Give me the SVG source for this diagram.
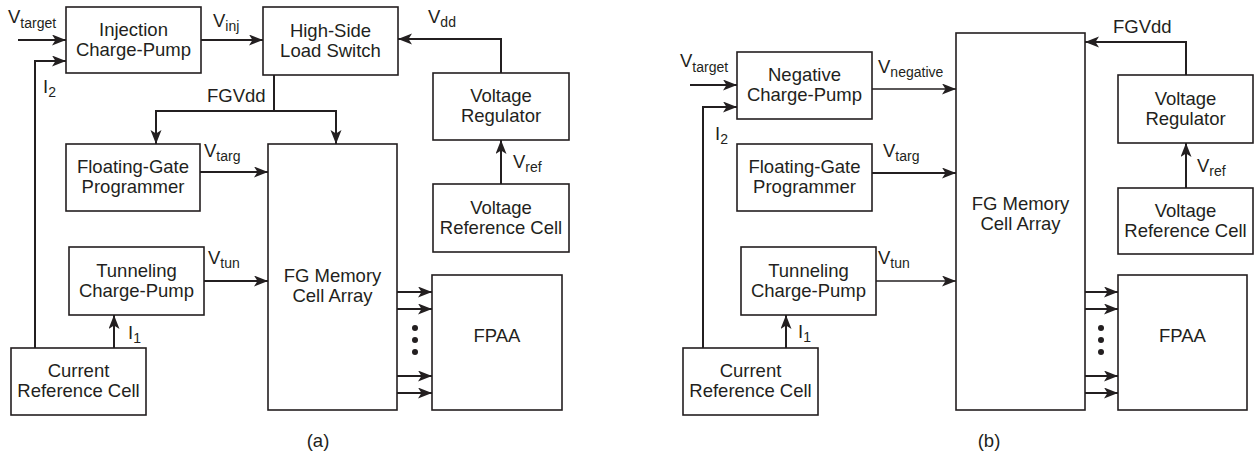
<svg xmlns="http://www.w3.org/2000/svg" width="1255" height="459" viewBox="0 0 1255 459">
<style>
rect.box{fill:#fff;stroke:#231f20;stroke-width:1.6}
text{font-family:"Liberation Sans",Arial,sans-serif;font-size:18.5px;fill:#231f20}
text.c{text-anchor:middle}
.sub{font-size:14px}
.w path{fill:none;stroke:#231f20;stroke-width:2}
.w path.thin{stroke-width:1.4}
.dot{fill:#231f20}
</style>
<defs>
<marker id="ah" markerUnits="userSpaceOnUse" markerWidth="15" markerHeight="12" refX="14" refY="5.5" orient="auto">
<path d="M0,0 L14,5.5 L0,11 L3.5,5.5 z" fill="#231f20"/>
</marker>
</defs>

<g id="connectors" class="w">
<!-- (a) -->
<path d="M18,40 H66" marker-end="url(#ah)"/>
<path d="M35,348 V61 H66" marker-end="url(#ah)"/>
<path d="M201,40 H263" marker-end="url(#ah)"/>
<path d="M274,75 V111 H156 V144" marker-end="url(#ah)"/>
<path d="M274,111 H336 V144" marker-end="url(#ah)"/>
<path d="M501,73 V39 H398" marker-end="url(#ah)"/>
<path d="M501,184 V140" marker-end="url(#ah)"/>
<path d="M200,172 H268" marker-end="url(#ah)"/>
<path d="M204,281 H268" marker-end="url(#ah)"/>
<path d="M114,348 V315" marker-end="url(#ah)"/>
<path d="M397,292 H432" marker-end="url(#ah)"/>
<path d="M397,309 H432" marker-end="url(#ah)"/>
<path d="M397,376 H432" marker-end="url(#ah)"/>
<path d="M397,393 H432" marker-end="url(#ah)"/>
<circle class="dot" cx="415" cy="328" r="3"/>
<circle class="dot" cx="415" cy="340" r="3"/>
<circle class="dot" cx="415" cy="352" r="3"/>
<!-- (b) -->
<path d="M690,85 H737" marker-end="url(#ah)"/>
<path d="M703,348 V107 H737" marker-end="url(#ah)"/>
<path class="thin" d="M872,89 H956" marker-end="url(#ah)"/>
<path d="M872,173 H956" marker-end="url(#ah)"/>
<path class="thin" d="M876,281 H956" marker-end="url(#ah)"/>
<path d="M1186,75 V42 H1085" marker-end="url(#ah)"/>
<path d="M1186,188 V143" marker-end="url(#ah)"/>
<path d="M786,348 V315" marker-end="url(#ah)"/>
<path d="M1085,292 H1118" marker-end="url(#ah)"/>
<path d="M1085,309 H1118" marker-end="url(#ah)"/>
<path d="M1085,376 H1118" marker-end="url(#ah)"/>
<path d="M1085,393 H1118" marker-end="url(#ah)"/>
<circle class="dot" cx="1101" cy="328" r="3"/>
<circle class="dot" cx="1101" cy="340" r="3"/>
<circle class="dot" cx="1101" cy="352" r="3"/>
</g>

<g id="labels">
<text x="8" y="23">V<tspan class="sub" dy="5">target</tspan></text>
<text x="43" y="93">I<tspan class="sub" dy="4">2</tspan></text>
<text x="213" y="27">V<tspan class="sub" dy="4">inj</tspan></text>
<text x="207" y="102">FGVdd</text>
<text x="204" y="157">V<tspan class="sub" dy="4">targ</tspan></text>
<text x="428" y="23">V<tspan class="sub" dy="4">dd</tspan></text>
<text x="513" y="168">V<tspan class="sub" dy="4">ref</tspan></text>
<text x="208" y="264">V<tspan class="sub" dy="4">tun</tspan></text>
<text x="128" y="339">I<tspan class="sub" dy="4">1</tspan></text>
<text class="c" x="318" y="447">(a)</text>

<text x="680" y="67">V<tspan class="sub" dy="5">target</tspan></text>
<text x="715" y="140">I<tspan class="sub" dy="4">2</tspan></text>
<text x="878" y="73">V<tspan class="sub" dy="4">negative</tspan></text>
<text x="883" y="157">V<tspan class="sub" dy="4">targ</tspan></text>
<text x="1113" y="33">FGVdd</text>
<text x="1197" y="172">V<tspan class="sub" dy="4">ref</tspan></text>
<text x="878" y="264">V<tspan class="sub" dy="4">tun</tspan></text>
<text x="798" y="338">I<tspan class="sub" dy="4">1</tspan></text>
<text class="c" x="989" y="447">(b)</text>
</g>

<!-- (a) nodes -->
<g id="a-injection-cp"><rect class="box" x="66" y="7" width="135" height="66"/><text class="c" x="133.5" y="36">Injection</text><text class="c" x="133.5" y="56">Charge-Pump</text></g>
<g id="a-high-side"><rect class="box" x="263" y="7" width="135" height="68"/><text class="c" x="330.5" y="37">High-Side</text><text class="c" x="330.5" y="57">Load Switch</text></g>
<g id="a-fg-programmer"><rect class="box" x="66" y="144" width="134" height="67"/><text class="c" x="133" y="173">Floating-Gate</text><text class="c" x="133" y="193">Programmer</text></g>
<g id="a-voltage-regulator"><rect class="box" x="433" y="73" width="136" height="67"/><text class="c" x="501" y="102">Voltage</text><text class="c" x="501" y="122">Regulator</text></g>
<g id="a-voltage-reference"><rect class="box" x="433" y="184" width="136" height="68"/><text class="c" x="501" y="214">Voltage</text><text class="c" x="501" y="234">Reference Cell</text></g>
<g id="a-tunneling-cp"><rect class="box" x="69" y="247" width="135" height="68"/><text class="c" x="136.5" y="277">Tunneling</text><text class="c" x="136.5" y="297">Charge-Pump</text></g>
<g id="a-current-reference"><rect class="box" x="11" y="348" width="135" height="67"/><text class="c" x="78.5" y="377">Current</text><text class="c" x="78.5" y="397">Reference Cell</text></g>
<g id="a-fg-memory"><rect class="box" x="268" y="144" width="129" height="266"/><text class="c" x="332.5" y="282">FG Memory</text><text class="c" x="332.5" y="302">Cell Array</text></g>
<g id="a-fpaa"><rect class="box" x="432" y="275" width="130" height="135"/><text class="c" x="497" y="342">FPAA</text></g>

<!-- (b) nodes -->
<g id="b-negative-cp"><rect class="box" x="737" y="52" width="135" height="67"/><text class="c" x="804.5" y="81">Negative</text><text class="c" x="804.5" y="101">Charge-Pump</text></g>
<g id="b-fg-programmer"><rect class="box" x="737" y="144" width="135" height="67"/><text class="c" x="804.5" y="173">Floating-Gate</text><text class="c" x="804.5" y="193">Programmer</text></g>
<g id="b-tunneling-cp"><rect class="box" x="741" y="247" width="135" height="68"/><text class="c" x="808.5" y="277">Tunneling</text><text class="c" x="808.5" y="297">Charge-Pump</text></g>
<g id="b-current-reference"><rect class="box" x="683" y="348" width="135" height="67"/><text class="c" x="750.5" y="377">Current</text><text class="c" x="750.5" y="397">Reference Cell</text></g>
<g id="b-fg-memory"><rect class="box" x="956" y="33" width="129" height="377"/><text class="c" x="1020.5" y="210">FG Memory</text><text class="c" x="1020.5" y="230">Cell Array</text></g>
<g id="b-voltage-regulator"><rect class="box" x="1118" y="75" width="135" height="68"/><text class="c" x="1185.5" y="105">Voltage</text><text class="c" x="1185.5" y="125">Regulator</text></g>
<g id="b-voltage-reference"><rect class="box" x="1118" y="188" width="135" height="66"/><text class="c" x="1185.5" y="217">Voltage</text><text class="c" x="1185.5" y="237">Reference Cell</text></g>
<g id="b-fpaa"><rect class="box" x="1118" y="275" width="129" height="135"/><text class="c" x="1182.5" y="342">FPAA</text></g>
</svg>
